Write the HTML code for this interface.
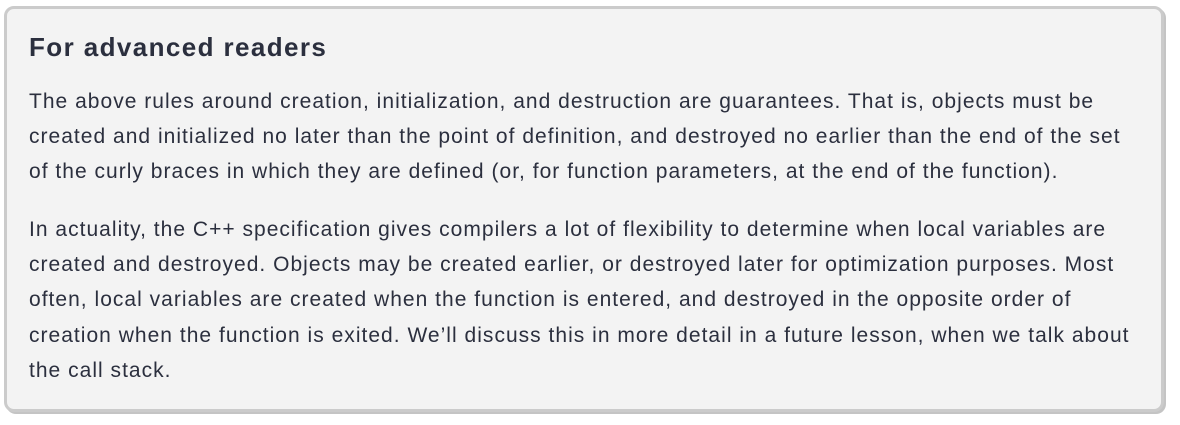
<!DOCTYPE html>
<html><head><meta charset="utf-8"><style>
html,body{margin:0;padding:0;background:#fff;width:1180px;height:425px;overflow:hidden}
.box{position:absolute;left:4px;top:6px;width:1154px;height:400px;background:#f3f3f3;border:3px solid #cbcbcb;border-radius:10px;box-shadow:2px 2px 0 #c4c4c4}
h2{position:absolute;left:22px;top:23px;margin:0;font:bold 26px "Liberation Sans",sans-serif;letter-spacing:1.4px;color:#2b2f3e}
.l{position:absolute;left:22px;font:21px "Liberation Sans",sans-serif;letter-spacing:1.02px;color:#2b2f3e;white-space:nowrap}
</style></head><body>
<div class="box">
<h2>For advanced readers</h2>
<div class="l" style="top:81px">The above rules around creation, initialization, and destruction are guarantees. That is, objects must be</div>
<div class="l" style="top:116px">created and initialized no later than the point of definition, and destroyed no earlier than the end of the set</div>
<div class="l" style="top:151px">of the curly braces in which they are defined (or, for function parameters, at the end of the function).</div>
<div class="l" style="top:209px">In actuality, the C++ specification gives compilers a lot of flexibility to determine when local variables are</div>
<div class="l" style="top:244px">created and destroyed. Objects may be created earlier, or destroyed later for optimization purposes. Most</div>
<div class="l" style="top:279px">often, local variables are created when the function is entered, and destroyed in the opposite order of</div>
<div class="l" style="top:315px">creation when the function is exited. We’ll discuss this in more detail in a future lesson, when we talk about</div>
<div class="l" style="top:350px">the call stack.</div>
</div>
</body></html>
